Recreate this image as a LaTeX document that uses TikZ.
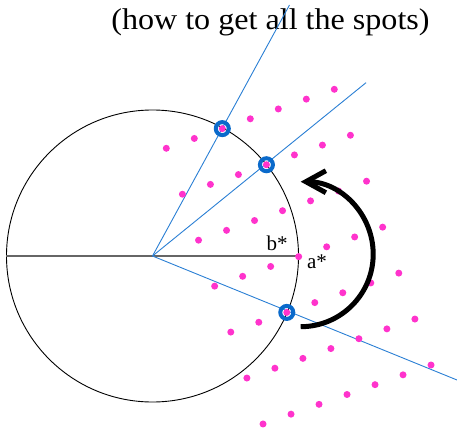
\documentclass[tikz,border=0pt]{standalone}
\usepackage{fontspec}
\setmainfont{Liberation Serif}
\newfontfamily\titlefont[FakeStretch=1.07]{Liberation Serif}
\usetikzlibrary{arrows.meta,calc}
\definecolor{spotPink}{HTML}{FF33CC}
\definecolor{rayBlue}{HTML}{2A7FD4}
\definecolor{ringBlue}{HTML}{0A6ACB}

\begin{document}
\begin{tikzpicture}[
  x=1pt,y=-1pt,
  spot/.style={circle,fill=spotPink,inner sep=0pt,minimum size=7pt},
  ring/.style={circle,draw=ringBlue,line width=4pt,inner sep=0pt,minimum size=13pt},
  ray/.style={rayBlue,line width=0.9pt},
  axis/.style={black!60,line width=1.3pt},
  lbl/.style={font=\fontsize{21}{23}\selectfont,anchor=base,inner sep=0pt},
  turn/.style={line width=5pt,-{Straight Barb[length=20pt,width=22pt]}}
]
  \useasboundingbox (0,0) rectangle (457,433);

  \node[font=\titlefont\fontsize{30}{33}\selectfont,anchor=base,inner sep=0pt] (title) at (270.5,30) {(how to get all the spots)};

  % unit circle and the rays
  \node[circle,draw,line width=0.9pt,minimum size=292pt,inner sep=0pt] (disc) at (152.5,256) {};
  \draw[axis] (disc.west) -- (disc.east);
  \coordinate (r1) at (289.5,5);
  \coordinate (r2) at (366,82.7);
  \coordinate (r3) at (457,380);
  \draw[ray] (disc.center) -- (r1);
  \draw[ray] (disc.center) -- (r2);
  \draw[ray] (disc.center) -- (r3);

  % lattice of spots
  \foreach \i in {0,...,6} {
    \foreach \j in {0,...,6} {
      \node[spot] (s\i\j) at ({334.3+16.12*\i-28*\j},{89.3+45.95*\i+9.83*\j}) {};
    }
  }
  \node[ring] (hit1) at (s04) {};
  \node[ring] (hit2) at (s13) {};
  \node[ring] (hit3) at (s44) {};

  \node[lbl] (bstar) at (277,250) {b*};
  \node[lbl] (astar) at (317,268.3) {a*};

  \coordinate (tail) at (300.7,326.7);
  \draw[turn] (tail) arc[start angle=90,end angle=-90,radius=72.5];
\end{tikzpicture}
\end{document}
